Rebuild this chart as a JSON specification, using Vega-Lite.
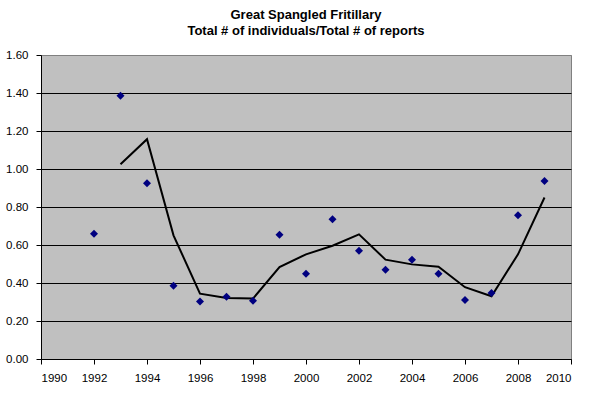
{
  "$schema": "https://vega.github.io/schema/vega-lite/v6.json",
  "autosize": {"type": "none"},
  "padding": {"left": 41, "top": 55, "right": 22, "bottom": 47},
  "width": 530,
  "height": 304,
  "background": "white",
  "title": {
    "text": ["Great Spangled Fritillary", "Total # of individuals/Total # of reports"],
    "font": "Liberation Sans",
    "fontSize": 13,
    "fontWeight": "bold",
    "color": "black",
    "lineHeight": 16.5,
    "anchor": "middle",
    "baseline": "bottom",
    "offset": -2
  },
  "data": {
    "values": [
      {"year": 1992, "ratio": 0.659, "avg": null},
      {"year": 1993, "ratio": 1.385, "avg": 1.025},
      {"year": 1994, "ratio": 0.925, "avg": 1.157},
      {"year": 1995, "ratio": 0.386, "avg": 0.651},
      {"year": 1996, "ratio": 0.302, "avg": 0.344},
      {"year": 1997, "ratio": 0.328, "avg": 0.321},
      {"year": 1998, "ratio": 0.306, "avg": 0.318},
      {"year": 1999, "ratio": 0.654, "avg": 0.484},
      {"year": 2000, "ratio": 0.449, "avg": 0.551},
      {"year": 2001, "ratio": 0.736, "avg": 0.596},
      {"year": 2002, "ratio": 0.570, "avg": 0.656},
      {"year": 2003, "ratio": 0.470, "avg": 0.523},
      {"year": 2004, "ratio": 0.523, "avg": 0.498},
      {"year": 2005, "ratio": 0.449, "avg": 0.486},
      {"year": 2006, "ratio": 0.310, "avg": 0.378},
      {"year": 2007, "ratio": 0.348, "avg": 0.330},
      {"year": 2008, "ratio": 0.757, "avg": 0.551},
      {"year": 2009, "ratio": 0.937, "avg": 0.850}
    ]
  },
  "encoding": {
    "x": {
      "field": "year",
      "type": "quantitative",
      "scale": {"domain": [1990, 2010], "nice": false, "zero": false},
      "axis": {
        "title": null,
        "values": [1990, 1992, 1994, 1996, 1998, 2000, 2002, 2004, 2006, 2008, 2010],
        "format": "d",
        "grid": false,
        "labelOverlap": false,
        "labelPadding": 8
      }
    }
  },
  "layer": [
    {
      "mark": {"type": "line", "color": "black", "strokeWidth": 2},
      "transform": [{"filter": "datum.avg != null"}],
      "encoding": {
        "y": {
          "field": "avg",
          "type": "quantitative",
          "scale": {"domain": [0, 1.6], "nice": false},
          "axis": {
            "title": null,
            "values": [0, 0.2, 0.4, 0.6, 0.8, 1.0, 1.2, 1.4, 1.6],
            "format": ".2f",
            "grid": true,
            "gridColor": {"condition": {"test": "datum.value >= 1.59", "value": "#808080"}, "value": "black"},
            "gridOpacity": 1,
            "labelOverlap": false,
            "labelPadding": 8
          }
        }
      }
    },
    {
      "mark": {"type": "point", "shape": "diamond", "filled": true, "color": "#000080", "opacity": 1, "size": 64},
      "encoding": {
        "y": {
          "field": "ratio",
          "type": "quantitative",
          "scale": {"domain": [0, 1.6], "nice": false},
          "axis": {
            "title": null,
            "values": [0, 0.2, 0.4, 0.6, 0.8, 1.0, 1.2, 1.4, 1.6],
            "format": ".2f",
            "grid": true,
            "gridColor": {"condition": {"test": "datum.value >= 1.59", "value": "#808080"}, "value": "black"},
            "gridOpacity": 1,
            "labelOverlap": false,
            "labelPadding": 8
          }
        }
      }
    }
  ],
  "config": {
    "view": {"fill": "#C0C0C0", "stroke": "#808080", "strokeWidth": 1},
    "axis": {
      "domainColor": "black",
      "domainWidth": 1,
      "tickColor": "black",
      "tickSize": 5,
      "labelFont": "Liberation Sans",
      "labelFontSize": 11.5,
      "labelColor": "black"
    }
  }
}
